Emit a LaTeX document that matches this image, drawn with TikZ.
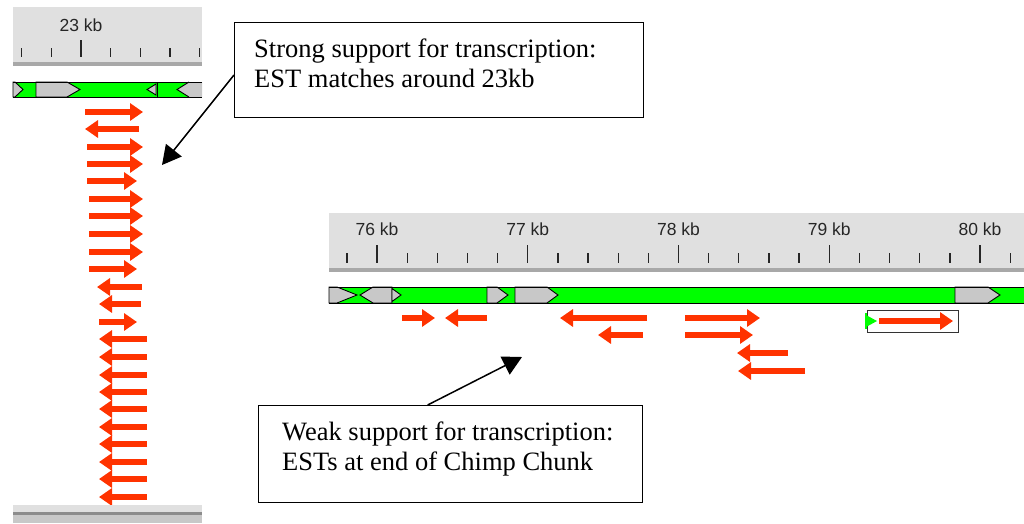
\documentclass[tikz,border=0pt]{standalone}
\usepackage{fontspec}
\setmainfont{Liberation Serif}
\newfontfamily\rulerfont{Liberation Sans}
\usetikzlibrary{arrows.meta}
\definecolor{genegreen}{RGB}{0,255,0}
\definecolor{exongray}{RGB}{200,200,200}
\definecolor{rulerbg}{RGB}{224,224,224}
\definecolor{rulerline}{RGB}{168,168,168}
\definecolor{estred}{RGB}{255,51,0}
\begin{document}
\begin{tikzpicture}[x=1pt,y=-1pt,
  est/.style={draw=estred, line width=6.6pt, -{Triangle[length=13pt,width=17pt]}},
  exon/.style={fill=exongray, draw=black, line width=0.9pt},
  barline/.style={draw=black, line width=1pt},
  tickmajor/.style={draw=black!85, line width=1.3pt},
  tickminor/.style={draw=black!85, line width=1.3pt},
  rulerlabel/.style={font=\rulerfont\fontsize{17.5}{19}\selectfont, text=black!85, anchor=base, inner sep=0pt},
  calloutbox/.style={draw=black, line width=1.3pt, fill=white, anchor=north west, inner sep=0pt},
  callouttext/.style={font=\fontsize{26.5}{30}\selectfont, align=left, anchor=base west, inner sep=0pt},
  callout/.style={draw=black, line width=1.5pt, -{Triangle[length=19pt,width=20pt]}}]
\useasboundingbox (0,0) rectangle (1024,523);

% ---------------- left panel ----------------
\fill[rulerbg] (13,7) rectangle (202,62);
\fill[rulerline] (13,62) rectangle (202,65.5);
\foreach \k in {-2,-1,1,2,3,4} \draw[tickminor] (81+29.7*\k,48) -- (81+29.7*\k,57);
\draw[tickmajor] (81,40) -- (81,57);
\node[rulerlabel] (lab23) at (81,31) {23 kb};

\fill[genegreen] (13,82) rectangle (202,97);
\filldraw[exon] (13,82) -- (15,82) -- (23,89.5) -- (15,97) -- (13,97) -- cycle;
\filldraw[exon] (36,82) -- (67,82) -- (80,89.5) -- (67,97) -- (36,97) -- cycle;
\filldraw[exon] (156,84) -- (147,89.5) -- (156,95) -- cycle;
\draw[barline] (157,82) -- (157,97);
\fill[exongray] (202,82) -- (189,82) -- (177,89.5) -- (189,97) -- (202,97) -- cycle;
\draw[line width=0.9pt] (189,82) -- (177,89.5) -- (189,97);
\draw[barline] (13,82) -- (202,82) (13,97) -- (202,97);

\foreach \a/\b/\y in {85/143/112, 139/85/129, 87/143/147, 87/143/164, 87/137/181,
  89/143/199, 89/143/216, 89/143/234, 89/143/252, 89/137/269, 142/97/287, 141/99/304,
  99/137/322, 147/99/339, 147/99/357, 147/99/375, 147/99/392, 147/99/409, 147/99/427,
  147/99/444, 147/99/462, 147/99/479, 147/99/497}
  \draw[est] (\a,\y) -- (\b,\y);

\fill[rulerbg] (13,505) rectangle (202,512);
\fill[black!45] (13,512) rectangle (202,514.5);
\fill[exongray] (13,514.5) rectangle (202,523);

% ---------------- right panel ----------------
\fill[rulerbg] (329,213) rectangle (1024,268);
\fill[rulerline] (329,268) rectangle (1024,271.5);
\foreach \k in {-1,1,2,3,4,6,7,8,9,11,12,13,14,16,17,18,19,21}
  \draw[tickminor] (377+30.15*\k,253) -- (377+30.15*\k,263);
\foreach \k/\t in {0/76,5/77,10/78,15/79,20/80}{
  \draw[tickmajor] (377+30.15*\k,245) -- (377+30.15*\k,263);
  \node[rulerlabel] (lab\t) at (377+30.15*\k,235) {\t\ kb};
}

\fill[genegreen] (329,287) rectangle (1024,303);
\filldraw[exon] (329,287) -- (337,287) -- (357,295) -- (337,303) -- (329,303) -- cycle;
\filldraw[exon] (392,287) -- (373,287) -- (360,295) -- (373,303) -- (392,303) -- cycle;
\filldraw[exon] (392,288.5) -- (401,295) -- (392,301.5) -- cycle;
\filldraw[exon] (487,287) -- (497,287) -- (508,295) -- (497,303) -- (487,303) -- cycle;
\draw[barline] (515,287) -- (515,303);
\filldraw[exon] (515,287) -- (547,287) -- (558,295) -- (547,303) -- (515,303) -- cycle;
\filldraw[exon] (955,287) -- (988,287) -- (1000,295) -- (988,303) -- (955,303) -- cycle;
\draw[barline] (329,287) -- (1024,287) (329,303) -- (1024,303);

\foreach \a/\b/\y in {402/435/318, 487/445/318, 647/560/318, 685/760/318,
  643/598/335, 685/753/335, 788/737/353, 805/738/371}
  \draw[est] (\a,\y) -- (\b,\y);

\draw[draw=black!80, line width=1pt, fill=white] (867,310) rectangle (958,332);
\fill[genegreen] (866,315) -- (877,321) -- (866,327) -- cycle;
\draw[genegreen, line width=1.5pt] (866,313) -- (866,329);
\draw[est] (879,321) -- (953,321);

% ---------------- callouts ----------------
\node[calloutbox, minimum width=409pt, minimum height=95pt] (box1) at (234,22) {};
\node[callouttext] (txt1) at (254,87) {Strong support for transcription:\\EST matches around 23kb};
\coordinate (t1) at (162,165);
\draw[callout] ([yshift=-53pt]box1.north west) -- (t1);

\node[calloutbox, minimum width=384pt, minimum height=97pt] (box2) at (258,405) {};
\node[callouttext] (txt2) at (282,470) {Weak support for transcription:\\ESTs at end of Chimp Chunk};
\coordinate (t2) at (522,357);
\draw[callout] ([xshift=-23pt]box2.north) -- (t2);
\end{tikzpicture}
\end{document}
